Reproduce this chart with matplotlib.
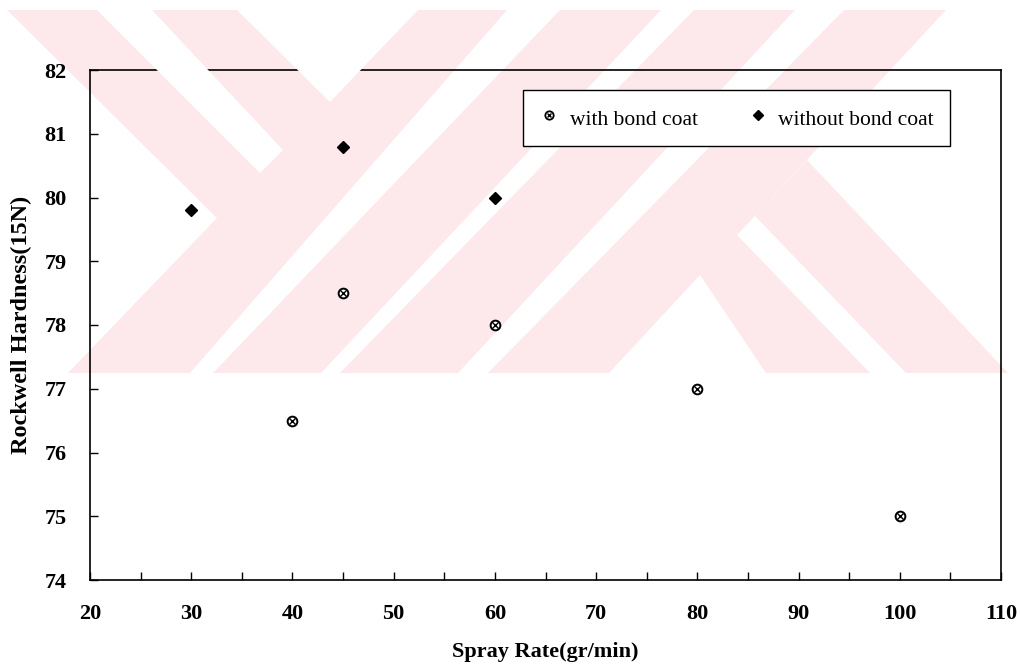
import matplotlib.pyplot as plt
from matplotlib.patches import Polygon

# data
x_with = [40, 45, 60, 80, 100]
y_with = [76.5, 78.5, 78.0, 77.0, 75.0]
x_without = [30, 45, 60]
y_without = [79.8, 80.8, 80.0]

x_ticks = [20, 30, 40, 50, 60, 70, 80, 90, 100, 110]
y_ticks = [74, 75, 76, 77, 78, 79, 80, 81, 82]

W, H = 1021, 667
plt.rcParams["font.family"] = ["Liberation Serif", "DejaVu Serif"]

fig = plt.figure(figsize=(W / 100, H / 100), dpi=100)

# faint background watermark (pixel coords, y measured from top)
pink = "#fde9ec"
pink_shapes = [
    [(7, 10), (507, 10), (190, 373), (68, 373), (217, 218)],
    [(560, 10), (661, 10), (321, 373), (213, 373)],
    [(694, 10), (795, 10), (458, 373), (340, 373)],
    [(844, 10), (946, 10), (609, 373), (488, 373)],
    [(700, 275), (737, 235), (870, 373), (766, 373)],
    [(807, 160), (1008, 373), (906, 373), (755, 216)],
]
white_cuts = [
    [(97, 10), (152, 10), (283, 150), (260, 173)],
    [(237, 10), (418, 10), (330, 102)],
]


def to_fig(poly):
    return [(px / W, 1 - py / H) for px, py in poly]


for p in pink_shapes:
    fig.add_artist(Polygon(to_fig(p), closed=True, transform=fig.transFigure,
                           facecolor=pink, edgecolor="none", zorder=0))
for p in white_cuts:
    fig.add_artist(Polygon(to_fig(p), closed=True, transform=fig.transFigure,
                           facecolor="white", edgecolor="none", zorder=0.5))

ax = fig.add_axes([90 / W, 1 - 580 / H, 911 / W, 510 / H])
ax.patch.set_alpha(0)

ax.plot(x_with, y_with, linestyle="none", marker="o", ms=7, mfc="white",
        mec="black", mew=1.4, zorder=3)
ax.plot(x_with, y_with, linestyle="none", marker="x", ms=4, mec="black",
        mew=1.0, zorder=4)
ax.plot(x_without, y_without, linestyle="none", marker="D", ms=6.5,
        color="black", zorder=3)

# legend handles
h1a, = ax.plot([], [], linestyle="none", marker="o", ms=6, mfc="white",
               mec="black", mew=1.3)
h1b, = ax.plot([], [], linestyle="none", marker="x", ms=3.5, mec="black", mew=1.0)
h2, = ax.plot([], [], linestyle="none", marker="D", ms=5.5, color="black")
leg = ax.legend([(h1a, h1b), h2], ["with bond coat", "without bond coat"],
                ncol=2, loc="upper left",
                bbox_to_anchor=((523 - 90) / 911, 1 - (90 - 70) / 510),
                frameon=True, fancybox=False, framealpha=1, edgecolor="black",
                fontsize=15.5, handlelength=1.0, handleheight=1.4,
                handletextpad=0.45, columnspacing=2.3, borderpad=0.72,
                borderaxespad=0)
leg.get_frame().set_linewidth(1.0)

ax.set_xlim(20, 110)
ax.set_ylim(74, 82)
ax.set_xticks(x_ticks)
ax.set_xticks([25, 35, 45, 55, 65, 75, 85, 95, 105], minor=True)
ax.set_yticks(y_ticks)
ax.tick_params(axis="both", which="both", direction="in", top=False, right=False,
               width=1.0, labelsize=16)
ax.tick_params(axis="x", which="major", length=6, pad=17)
ax.tick_params(axis="x", which="minor", length=6)
ax.tick_params(axis="y", which="major", length=6, pad=17)
for lbl in ax.get_xticklabels() + ax.get_yticklabels():
    lbl.set_fontweight("bold")
for s in ax.spines.values():
    s.set_linewidth(1.2)

ax.set_xlabel("Spray Rate(gr/min)", fontsize=16, fontweight="bold", labelpad=13)
ax.set_ylabel("Rockwell Hardness(15N)", fontsize=17.5, fontweight="bold",
              labelpad=9)

fig.savefig("out.png", dpi=100)
